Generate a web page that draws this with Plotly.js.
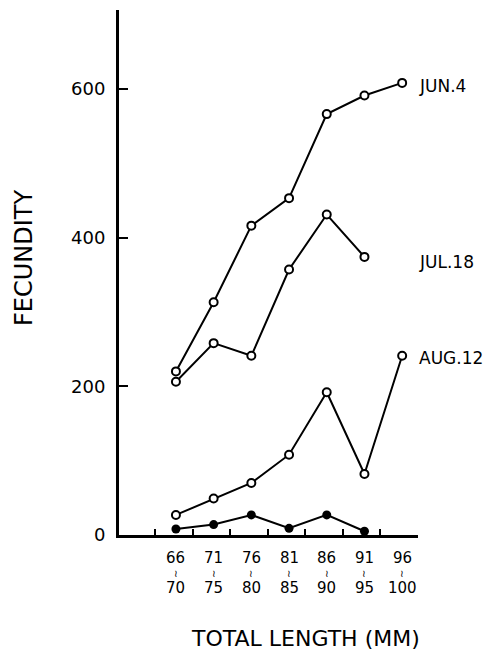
<!DOCTYPE html>
<html>
<head>
<meta charset="utf-8">
<script src="https://cdn.plot.ly/plotly-3.0.1.min.js"></script>
<style>html,body{margin:0;padding:0;background:#fff;}</style>
</head>
<body>
<div id="chart" style="width:488px;height:656px;"></div>
<script>
// Size classes (mm), positions 1..7
const classPos = [1, 2, 3, 4, 5, 6, 7];
const classLow = ['66', '71', '76', '81', '86', '91', '96'];
const classHigh = ['70', '75', '80', '85', '90', '95', '100'];

// Fecundity by sampling date
const jun4 = [220, 313, 416, 453, 566, 591, 608];
const jul18 = [206, 258, 241, 357, 431, 374, null];
const aug12 = [27, 49, 70, 108, 192, 82, 241];
const filled = [8, 14, 27, 9, 27, 5, null];

const seriesLabels = ['JUN.4', 'JUL.18', 'AUG.12'];
const labelY = [604, 367, 238];

const yTicks = [0, 200, 400, 600];
const boundaryTicks = [0.44, 1.45, 2.43, 3.44, 4.42, 5.43, 6.42, 7.42];

const FONT = 'DejaVu Sans, sans-serif';

function openTrace(y) {
  return {
    x: classPos, y: y, type: 'scatter', mode: 'lines+markers',
    line: {color: '#000', width: 2},
    marker: {symbol: 'circle', size: 8, color: '#fff', line: {color: '#000', width: 2}},
    cliponaxis: false, showlegend: false, hoverinfo: 'x+y'
  };
}

const traces = [
  openTrace(jun4),
  openTrace(jul18),
  openTrace(aug12),
  {
    x: classPos, y: filled, type: 'scatter', mode: 'lines+markers',
    line: {color: '#000', width: 2},
    marker: {symbol: 'circle', size: 9, color: '#000'},
    cliponaxis: false, showlegend: false
  }
];

const annotations = [];
classPos.forEach((p, i) => {
  annotations.push({x: p, xref: 'x', y: 558, yref: 'paper', text: classLow[i], showarrow: false,
    font: {family: FONT, size: 15, color: '#000'}, xanchor: 'center', yanchor: 'middle'});
  annotations.push({x: p, xref: 'x', y: 573, yref: 'paper', text: '≀', showarrow: false,
    font: {family: FONT, size: 10, color: '#000'}, xanchor: 'center', yanchor: 'middle'});
  annotations.push({x: p, xref: 'x', y: 588, yref: 'paper', text: classHigh[i], showarrow: false,
    font: {family: FONT, size: 15, color: '#000'}, xanchor: 'center', yanchor: 'middle'});
});
// convert pixel-y for tick label rows into paper coordinates
const H = 656, T = 10, B = 121, plotH = H - T - B;
annotations.forEach(a => { a.y = (H - B - a.y) / plotH; });

seriesLabels.forEach((s, i) => {
  annotations.push({x: (417 - 119) / 299, xref: 'paper', y: labelY[i], yref: 'y', text: s, showarrow: false,
    font: {family: FONT, size: 17, color: '#000'}, xanchor: 'left', yanchor: 'middle'});
});

annotations.push({x: (305 - 119) / 299, xref: 'paper', y: (H - B - 638) / plotH, yref: 'paper',
  text: 'TOTAL LENGTH (MM)', showarrow: false, font: {family: FONT, size: 22, color: '#000'},
  xanchor: 'center', yanchor: 'middle'});
annotations.push({x: (24 - 119) / 299, xref: 'paper', y: (H - B - 258) / plotH, yref: 'paper',
  text: 'FECUNDITY', textangle: -90, showarrow: false, font: {family: FONT, size: 24, color: '#000'},
  xanchor: 'center', yanchor: 'middle'});

const layout = {
  width: 488, height: 656,
  margin: {l: 119, r: 70, t: T, b: B, pad: 0},
  paper_bgcolor: '#fff', plot_bgcolor: '#fff',
  showlegend: false,
  xaxis: {
    range: [-0.51, 7.42], showgrid: false, zeroline: false,
    showline: true, linecolor: '#000', linewidth: 3,
    tickmode: 'array', tickvals: boundaryTicks, ticks: 'inside', ticklen: 6, tickwidth: 2, tickcolor: '#000',
    showticklabels: false, fixedrange: true
  },
  yaxis: {
    range: [0, 706], showgrid: false, zeroline: false,
    showline: true, linecolor: '#000', linewidth: 3,
    tickmode: 'array', tickvals: yTicks, ticktext: yTicks.map(String),
    ticks: 'inside', ticklen: 9, tickwidth: 2, tickcolor: '#000',
    ticklabelstandoff: 7,
    tickfont: {family: FONT, size: 18, color: '#000'}, fixedrange: true
  },
  annotations: annotations
};

Plotly.newPlot('chart', traces, layout, {displayModeBar: false, staticPlot: true});
</script>
</body>
</html>
